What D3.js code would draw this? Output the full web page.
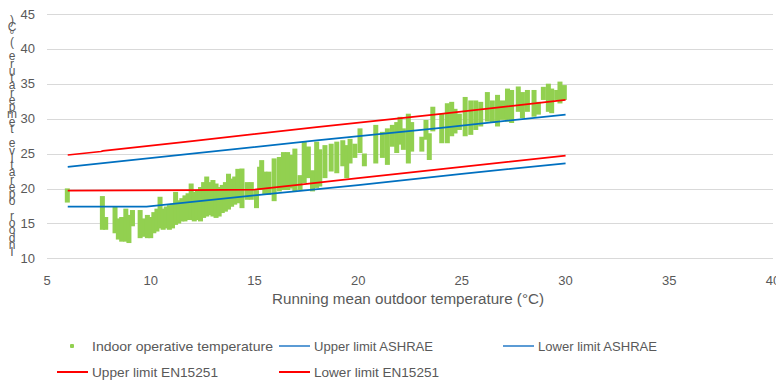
<!DOCTYPE html>
<html>
<head>
<meta charset="utf-8">
<script src="https://cdn.jsdelivr.net/npm/d3@7"></script>
<style>
  html, body { margin: 0; padding: 0; background: #fff; }
  svg { display: block; font-family: "Liberation Sans", Arial, sans-serif; }
</style>
</head>
<body>
<div id="chart"></div>
<script>
// --- Data ---
const xTicks = [5, 10, 15, 20, 25, 30, 35, 40];
const yTicks = [10, 15, 20, 25, 30, 35, 40, 45];

// indoor operative temperature, drawn as dense columns of points (running mean T, low, high)
const indoorT = [5.98, 7.67, 7.83, 8.28, 8.44, 8.6, 8.8, 8.95, 9.12, 9.49, 9.65, 9.84,
  10.0, 10.15, 10.3, 10.45, 10.6, 10.75, 10.9, 11.05, 11.2, 11.35, 11.5, 11.65, 11.8, 11.95,
  12.1, 12.25, 12.4, 12.55, 12.7, 12.85, 13.0, 13.15, 13.3, 13.45, 13.6, 13.75, 13.9, 14.05, 14.2,
  14.4, 14.65, 14.85, 15.1, 15.25, 15.35, 15.5, 15.7, 15.95, 16.2, 16.4, 16.6, 16.8, 16.95,
  17.2, 17.4, 17.6, 17.8, 18.0, 18.15, 18.4,
  18.7, 18.97, 19.26, 19.45, 19.61, 19.84, 20.09, 20.3, 20.85, 21.17, 21.41, 21.65, 21.86,
  22.02, 22.18, 22.42, 22.58,
  23.07, 23.27, 23.43, 23.6, 24.03, 24.3, 24.51, 24.67, 24.88, 25.16, 25.43, 25.67, 25.91,
  26.23, 26.47, 26.72, 26.96, 27.2,
  27.4, 27.72, 27.92, 28.16, 28.48, 28.69, 28.93, 29.17, 29.33, 29.57, 29.73, 29.94];
const indoorLow = [18.2, 14.3, 14.3, 13.8, 12.9, 12.6, 12.6, 12.4, 14.8, 13.1, 13.3, 13.1,
  13.1, 13.8, 14.05, 14.5, 14.3, 14.5, 14.3, 14.5, 15.0, 15.2, 15.5, 15.5, 15.7, 15.7,
  15.5, 15.7, 15.5, 16.0, 16.2, 16.4, 16.2, 16.0, 16.2, 16.7, 16.9, 17.2, 17.6, 17.9, 18.1,
  17.4, 18.6, 18.6, 17.4, 20.0, 20.0, 19.3, 19.3, 18.4, 19.8, 20.0, 20.0, 20.2, 19.8,
  20.0, 21.0, 21.7, 19.8, 20.3, 20.5, 21.7,
  22.65, 22.4, 23.4, 21.7, 23.8, 24.6, 25.3, 23.4, 23.8, 24.6, 23.6, 26.2, 25.3,
  26.5, 25.75, 23.8, 25.5,
  25.5, 27.2, 24.3, 28.4, 26.7, 26.7, 27.7, 28.1, 28.6, 27.7, 27.9, 28.6, 29.1,
  29.8, 29.6, 29.1, 30.05, 29.8,
  29.6, 31.2, 30.3, 31.2, 30.5, 30.8, 32.9, 31.2, 31.0, 32.9, 32.4, 32.9];
const indoorHigh = [19.8, 18.7, 15.7, 17.2, 15.5, 15.7, 16.9, 16.0, 16.7, 16.7, 15.5, 16.0,
  15.7, 16.4, 16.9, 18.6, 16.9, 17.2, 17.4, 17.6, 19.3, 18.1, 18.4, 18.8, 19.1, 20.5,
  19.3, 19.5, 20.0, 20.7, 21.5, 20.7, 21.0, 20.5, 20.0, 20.3, 20.7, 21.9, 21.2, 21.5, 22.6,
  22.65, 20.7, 20.7, 19.55, 22.9, 23.85, 22.2, 22.2, 24.1, 24.3, 25.0, 25.0, 24.6, 25.5,
  21.7, 26.5, 25.8, 22.4, 26.5, 25.4, 26.0,
  26.2, 26.5, 26.7, 26.0, 26.9, 26.2, 28.4, 24.8, 28.9, 27.9, 28.4, 28.9, 29.3,
  30.05, 28.4, 30.5, 29.3,
  27.2, 29.6, 27.7, 31.5, 30.5, 32.0, 32.2, 31.2, 30.5, 32.9, 32.4, 32.4, 32.2,
  33.6, 32.4, 33.2, 32.4, 34.1,
  33.9, 34.4, 33.6, 33.9, 33.9, 32.2, 34.35, 34.8, 34.1, 33.9, 35.1, 34.6];

// comfort limits
const ashraeUpperT = [6, 12, 18, 24, 30];
const ashraeUpperV = [23.1, 25.0, 26.9, 28.7, 30.6];
const ashraeLowerT = [6, 9.8, 15, 20, 25, 30];
const ashraeLowerV = [17.4, 17.4, 19.0, 20.5, 22.1, 23.6];
const enUpperT = [6, 7.6, 7.7, 12, 18, 24, 30];
const enUpperV = [24.8, 25.3, 25.4, 26.8, 28.8, 30.7, 32.7];
const enLowerT = [6, 12, 15, 17.2, 20, 25, 30];
const enLowerV = [19.7, 19.75, 19.85, 20.55, 21.5, 23.1, 24.7];

const yTitle = "Indoor operative temperature (°C)";
const xTitle = "Running mean outdoor temperature (°C)";
const legendLabels = ["Indoor operative temperature", "Upper limit ASHRAE", "Lower limit ASHRAE",
  "Upper limit EN15251", "Lower limit EN15251"];

// --- Layout ---
const W = 776, H = 383;
const textColor = "#595959";
const green = "#92D050", blue = "#0070C0", red = "#FF0000";

const svg = d3.select("#chart").append("svg")
  .attr("width", W).attr("height", H);

const x = d3.scaleLinear().domain([5, 40]).range([47, 773]);
const y = d3.scaleLinear().domain([10, 45]).range([258.3, 14]);

// gridlines
svg.append("g").selectAll("line").data(yTicks).join("line")
  .attr("x1", x(5)).attr("x2", x(40))
  .attr("y1", d => Math.round(y(d)) + 0.5).attr("y2", d => Math.round(y(d)) + 0.5)
  .attr("stroke", "#d9d9d9").attr("stroke-width", 1);

// y tick labels
svg.append("g").selectAll("text").data(yTicks).join("text")
  .attr("x", 35).attr("y", d => y(d)).attr("dy", "0.35em")
  .attr("text-anchor", "end").attr("font-size", 13).attr("fill", textColor)
  .text(d => d);

// x tick labels
svg.append("g").selectAll("text").data(xTicks).join("text")
  .attr("x", d => x(d)).attr("y", 285)
  .attr("text-anchor", "middle").attr("font-size", 13).attr("fill", textColor)
  .text(d => d);

// x title
svg.append("text")
  .attr("x", 408).attr("y", 304)
  .attr("text-anchor", "middle").attr("font-size", 14).attr("fill", textColor)
  .attr("textLength", 272).attr("lengthAdjust", "spacingAndGlyphs")
  .text(xTitle);

// y title: stacked characters, reading bottom to top (one text element)
const chars = yTitle.split("").reverse();
svg.append("text")
  .attr("text-anchor", "middle").attr("font-size", 12).attr("fill", textColor)
  .selectAll("tspan").data(chars).join("tspan")
  .attr("x", 12)
  .attr("y", (d, i) => 24 + i * 7.25)
  .text(d => d);

// indoor points
const cols = indoorT.map((t, i) => ({ t, lo: indoorLow[i], hi: indoorHigh[i] }));
svg.append("g").selectAll("rect").data(cols).join("rect")
  .attr("x", d => x(d.t) - 2.5)
  .attr("width", 5)
  .attr("y", d => y(d.hi) - 1.5)
  .attr("height", d => y(d.lo) - y(d.hi) + 3)
  .attr("fill", green);

// limit lines
const line = d3.line().x(d => x(d[0])).y(d => y(d[1]));
const limits = [
  { t: ashraeUpperT, v: ashraeUpperV, c: blue },
  { t: ashraeLowerT, v: ashraeLowerV, c: blue },
  { t: enUpperT, v: enUpperV, c: red },
  { t: enLowerT, v: enLowerV, c: red }
];
svg.append("g").selectAll("path").data(limits).join("path")
  .attr("d", d => line(d.t.map((t, i) => [t, d.v[i]])))
  .attr("fill", "none")
  .attr("stroke", d => d.c)
  .attr("stroke-width", 1.75);

// legend
const legendPos = [
  { sx: 57, y: 346, type: "marker", c: green },
  { sx: 279, y: 346, type: "line", c: "#5B9BD5" },
  { sx: 503, y: 346, type: "line", c: "#5B9BD5" },
  { sx: 57, y: 372, type: "line", c: red },
  { sx: 279, y: 372, type: "line", c: red }
];
const legendWidths = [181, 119, 119, 126, 125];
const lg = svg.append("g");
legendPos.forEach((p, i) => {
  if (p.type === "marker") {
    lg.append("rect").attr("x", p.sx + 13).attr("y", p.y - 2).attr("width", 4).attr("height", 4)
      .attr("rx", 1).attr("fill", p.c);
  } else {
    lg.append("line").attr("x1", p.sx).attr("x2", p.sx + 31)
      .attr("y1", p.y).attr("y2", p.y)
      .attr("stroke", p.c).attr("stroke-width", 2);
  }
  lg.append("text")
    .attr("x", p.sx + 35).attr("y", p.y).attr("dy", "0.35em")
    .attr("font-size", 13).attr("fill", textColor)
    .attr("textLength", legendWidths[i]).attr("lengthAdjust", "spacingAndGlyphs")
    .text(legendLabels[i]);
});
</script>
</body>
</html>
